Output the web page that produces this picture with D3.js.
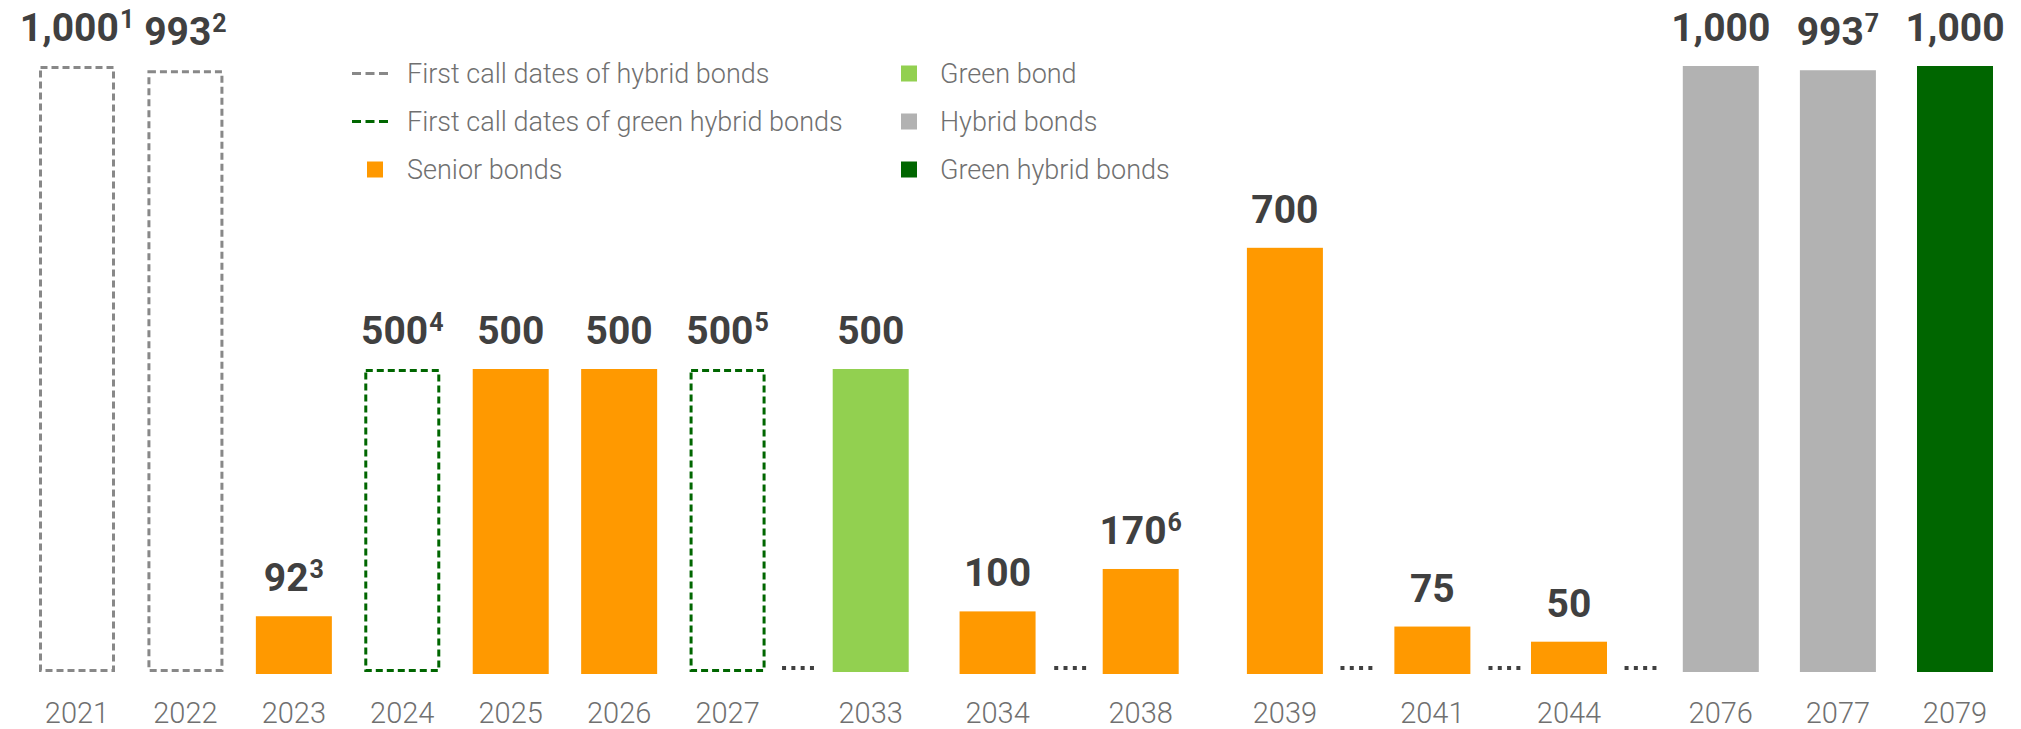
<!DOCTYPE html>
<html>
<head>
<meta charset="utf-8">
<script src="https://cdn.jsdelivr.net/npm/d3@7"></script>
<style>
  html, body { margin: 0; padding: 0; background: #fff; }
  svg { display: block; }
  text { font-family: Roboto, "Noto Sans", sans-serif; }
</style>
</head>
<body>
<script>
// ---------------- DATA ----------------
const years   = ["2021","2022","2023","2024","2025","2026","2027","2033","2034","2038","2039","2041","2044","2076","2077","2079"];
const values  = [1000, 993, 92, 500, 500, 500, 500, 500, 100, 170, 700, 75, 50, 1000, 993, 1000];
const kinds   = ["hybridCall","hybridCall","senior","greenHybridCall","senior","senior","greenHybridCall","green","senior","senior","senior","senior","senior","hybrid","hybrid","greenHybrid"];
const notes   = ["1","2","3","4","","","5","","","6","","","","","7",""];

const legendKinds  = ["hybridCall","greenHybridCall","senior","green","hybrid","greenHybrid"];
const legendLabels = ["First call dates of hybrid bonds","First call dates of green hybrid bonds","Senior bonds","Green bond","Hybrid bonds","Green hybrid bonds"];

// ---------------- LAYOUT / STYLE ----------------
const W = 2021, H = 729;
const slots    = [0,1,2,3,4,5,6,7.32,8.49,9.81,11.14,12.5,13.76,15.16,16.24,17.32];
const gapSlots = [6.65, 9.16, 11.80, 13.165, 14.42];
const colors = {
  senior: "#FF9900", green: "#92D050", hybrid: "#B2B2B2", greenHybrid: "#006600",
  hybridCall: "#888888", greenHybridCall: "#006600"
};
const dashed = k => k === "hybridCall" || k === "greenHybridCall";

const svg = d3.select("body").append("svg").attr("width", W).attr("height", H);

const x = d3.scaleLinear().domain([0, 17.32]).range([77, 1955]);
const y = d3.scaleLinear().domain([0, 1000]).range([672, 66]);
const barW = 76;

const data = years.map((yr, i) => ({yr, v: values[i], k: kinds[i], n: notes[i], s: slots[i]}));

// bars
svg.append("g").selectAll("rect").data(data).join("rect")
  .attr("x", d => x(d.s) - barW / 2 + (dashed(d.k) ? 1.5 : 0))
  .attr("y", d => y(d.v) + (dashed(d.k) ? 1.5 : 0))
  .attr("width", d => barW - (dashed(d.k) ? 3 : 0))
  .attr("height", d => y(0) - y(d.v) - (dashed(d.k) ? 3 : 0) + (d.k === "senior" ? 2 : 0))
  .attr("fill", d => dashed(d.k) ? "none" : colors[d.k])
  .attr("stroke", d => dashed(d.k) ? colors[d.k] : "none")
  .attr("stroke-width", 3)
  .attr("stroke-dasharray", d => dashed(d.k) ? "7,4" : null);

// value labels
const fmt = d3.format(",");
const vl = svg.append("g").selectAll("text").data(data).join("text")
  .attr("x", d => x(d.s))
  .attr("y", d => y(d.v) - 25)
  .attr("text-anchor", "middle")
  .attr("font-size", 39)
  .attr("font-weight", 700)
  .attr("fill", "#404040");
vl.append("tspan").text(d => fmt(d.v));
vl.filter(d => d.n).append("tspan")
  .attr("font-size", 25)
  .attr("dy", -13)
  .attr("dx", 1)
  .text(d => d.n);

// year labels
svg.append("g").selectAll("text").data(data).join("text")
  .attr("x", d => x(d.s))
  .attr("y", 723)
  .attr("text-anchor", "middle")
  .attr("font-size", 29)
  .attr("font-weight", 300)
  .attr("fill", "#707070")
  .text(d => d.yr);

// ellipsis dots
const dotG = svg.append("g");
gapSlots.forEach(s => {
  dotG.selectAll(null).data(d3.range(4)).join("rect")
    .attr("x", i => x(s) - 14 + i * 9.3 - 2)
    .attr("y", 666)
    .attr("width", 4).attr("height", 4)
    .attr("fill", "#404040");
});

// legend
const legend = svg.append("g");
legendKinds.forEach((k, i) => {
  const col = Math.floor(i / 3), row = i % 3;
  const lx = col === 0 ? 352 : 901;
  const tx = col === 0 ? 407 : 940;
  const cy = 73.5 + row * 48;
  const g = legend.append("g");
  if (dashed(k)) {
    g.append("line").attr("x1", lx).attr("x2", lx + 36).attr("y1", cy).attr("y2", cy)
      .attr("stroke", colors[k]).attr("stroke-width", 3).attr("stroke-dasharray", "9,4.5");
  } else {
    const sx = col === 0 ? 367 : lx;
    g.append("rect").attr("x", sx).attr("y", cy - 8).attr("width", 16).attr("height", 16)
      .attr("fill", colors[k]);
  }
  g.append("text").attr("x", tx).attr("y", cy + 9.5)
    .attr("font-size", 27).attr("font-weight", 300).attr("fill", "#707070")
    .text(legendLabels[i]);
});
</script>
</body>
</html>
